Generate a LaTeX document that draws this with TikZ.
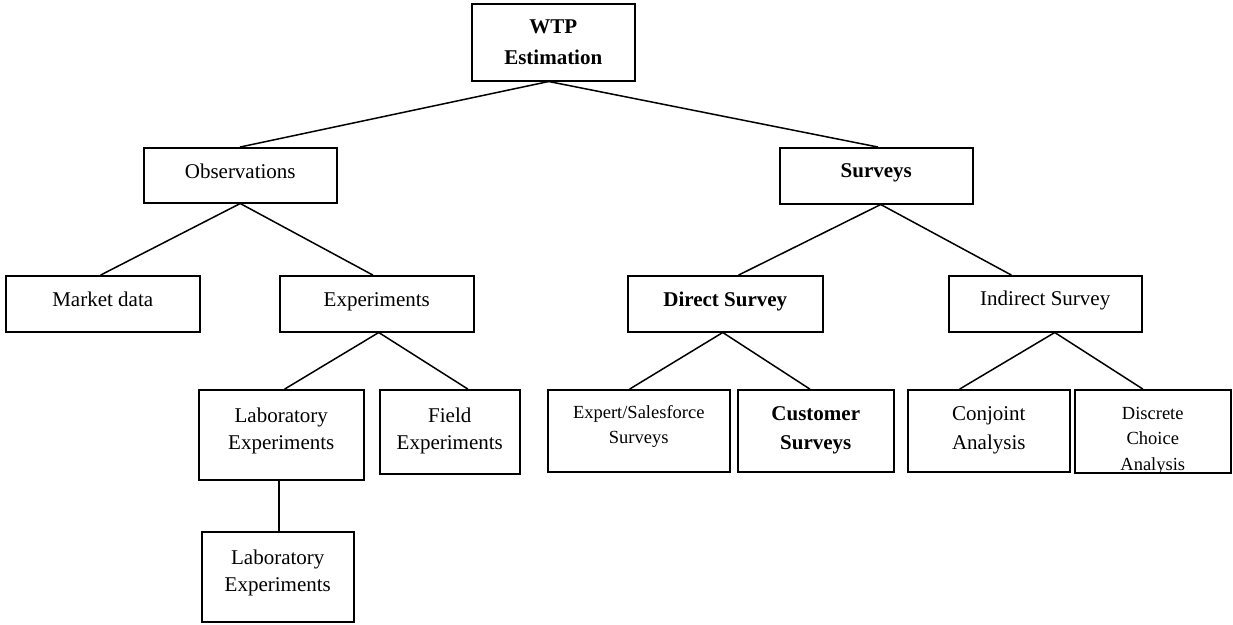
\documentclass[tikz,border=0pt]{standalone}
\usepackage{fontspec}
\setmainfont{Liberation Serif}
\newcommand{\strt}{\vrule height 16pt depth 0pt width 0pt}
\tikzset{
  box/.style={draw=black, line width=1.5pt, rectangle, inner sep=0pt, fill=white},
  lbl/.style={inner sep=0pt, align=center, font=\fontsize{21}{27}\selectfont},
  lblsm/.style={inner sep=0pt, align=center, font=\fontsize{18.5}{25.5}\selectfont},
  conn/.style={line width=1.5pt, line cap=round},
}
\begin{document}
\begin{tikzpicture}[x=1pt,y=-1pt]
\useasboundingbox[fill=white] (0,0) rectangle (1233,624);
% boxes
\node[box, minimum width=163, minimum height=77, anchor=north west] (wtp) at (471,3) {};
\node[box, minimum width=193, minimum height=55, anchor=north west] (obs) at (143,147) {};
\node[box, minimum width=193, minimum height=56, anchor=north west] (sur) at (779,147) {};
\node[box, minimum width=194, minimum height=56, anchor=north west] (md) at (5,275) {};
\node[box, minimum width=194, minimum height=56, anchor=north west] (exp) at (279,275) {};
\node[box, minimum width=195, minimum height=56, anchor=north west] (dir) at (627,275) {};
\node[box, minimum width=193, minimum height=56, anchor=north west] (ind) at (948,275) {};
\node[box, minimum width=165, minimum height=90, anchor=north west] (lab) at (198,389) {};
\node[box, minimum width=140, minimum height=84, anchor=north west] (field) at (379,389) {};
\node[box, minimum width=182, minimum height=82, anchor=north west] (expert) at (547,389) {};
\node[box, minimum width=156, minimum height=82, anchor=north west] (cust) at (737,389) {};
\node[box, minimum width=162, minimum height=82, anchor=north west] (conj) at (907,389) {};
\node[box, minimum width=156, minimum height=83, anchor=north west] (disc) at (1074,389) {};
\node[box, minimum width=152, minimum height=90, anchor=north west] (lab2) at (201,531) {};
% texts
\node[lbl, anchor=north, font=\fontsize{21}{31}\selectfont\bfseries] (twtp) at ([yshift=-14]wtp.north) {\strt WTP\\Estimation};
\node[lbl, anchor=north] (tobs) at ([yshift=-15]obs.north) {\strt Observations};
\node[lbl, anchor=north, font=\fontsize{21}{27}\selectfont\bfseries] (tsur) at ([yshift=-14]sur.north) {\strt Surveys};
\node[lbl, anchor=north] (tmd) at ([yshift=-15]md.north) {\strt Market data};
\node[lbl, anchor=north] (texp) at ([yshift=-15]exp.north) {\strt Experiments};
\node[lbl, anchor=north, font=\fontsize{21}{27}\selectfont\bfseries] (tdir) at ([yshift=-15]dir.north) {\strt Direct Survey};
\node[lbl, anchor=north] (tind) at ([yshift=-14]ind.north) {\strt Indirect Survey};
\node[lbl, anchor=north] (tlab) at ([yshift=-17]lab.north) {\strt Laboratory\\Experiments};
\node[lbl, anchor=north] (tfield) at ([yshift=-17]field.north) {\strt Field\\Experiments};
\node[lblsm, anchor=north] (texpert) at ([yshift=-13]expert.north) {\strt Expert/Salesforce\\Surveys};
\node[lbl, anchor=north, font=\fontsize{21}{29}\selectfont\bfseries] (tcust) at ([yshift=-15]cust.north) {\strt Customer\\Surveys};
\node[lbl, anchor=north, font=\fontsize{21}{29}\selectfont] (tconj) at ([yshift=-15]conj.north) {\strt Conjoint\\Analysis};
\begin{scope}
  \clip (disc.north west) rectangle (disc.south east);
  \node[lblsm, anchor=north] (tdisc) at ([yshift=-14]disc.north) {\strt Discrete\\Choice\\Analysis};
\end{scope}
\node[lbl, anchor=north] (tlab2) at ([yshift=-17]lab2.north) {\strt Laboratory\\Experiments};
% connectors
\draw[conn] ([xshift=-4.5]wtp.south) -- (obs.north);
\draw[conn] ([xshift=-4.5]wtp.south) -- ([xshift=1.5]sur.north);
\draw[conn] (obs.south) -- ([xshift=-2]md.north);
\draw[conn] (obs.south) -- ([xshift=-4]exp.north);
\draw[conn] ([xshift=4.5]sur.south) -- ([xshift=13.5]dir.north);
\draw[conn] ([xshift=4.5]sur.south) -- ([xshift=-34]ind.north);
\draw[conn] ([xshift=2]exp.south) -- ([xshift=3.5]lab.north);
\draw[conn] ([xshift=2]exp.south) -- ([xshift=18]field.north);
\draw[conn] ([xshift=-2.5]lab.south) -- ([xshift=-2.5]lab.south |- lab2.north);
\draw[conn] ([xshift=-2.5]dir.south) -- ([xshift=-9]expert.north);
\draw[conn] ([xshift=-2.5]dir.south) -- ([xshift=-6]cust.north);
\draw[conn] ([xshift=9.5]ind.south) -- ([xshift=-29]conj.north);
\draw[conn] ([xshift=9.5]ind.south) -- ([xshift=-10]disc.north);
\end{tikzpicture}
\end{document}
